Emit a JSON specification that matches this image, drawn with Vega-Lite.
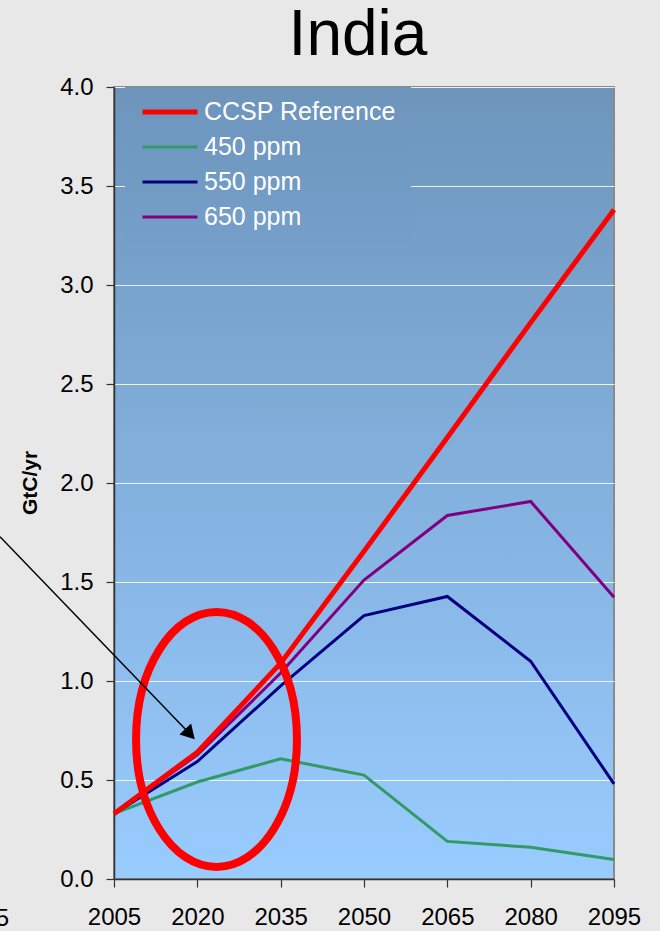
{
  "$schema": "https://vega.github.io/schema/vega-lite/v6.json",
  "width": 500,
  "height": 792,
  "autosize": "none",
  "padding": {"left": 114, "top": 87, "right": 46, "bottom": 52},
  "background": "#e8e8e8",
  "title": {"text": "India", "fontSize": 64, "font": "Liberation Sans", "fontWeight": "normal", "color": "#000000", "offset": 7, "anchor": "middle", "dx": -6},
  "config": {
    "font": "Liberation Sans",
    "view": {
      "fill": {"gradient": "linear", "x1": 0, "y1": 0, "x2": 0, "y2": 1, "stops": [{"offset": 0, "color": "#6d95bc"}, {"offset": 1, "color": "#99ccff"}]},
      "stroke": "#8a8a8a",
      "strokeWidth": 2
    },
    "axis": {"labelFont": "Liberation Sans", "labelFontSize": 24, "labelColor": "#000000", "tickSize": 8, "tickColor": "#333333", "domainColor": "#333333", "domainWidth": 1.5, "tickWidth": 1.2},
    "legend": {
      "orient": "none", "legendX": 11, "legendY": 0, "padding": 15,
      "strokeColor": null,
      "labelColor": "#ffffff", "labelFontSize": 25, "labelFont": "Liberation Sans", "labelLimit": 0,
      "symbolType": "stroke", "symbolSize": 3025, "clipHeight": 20, "rowPadding": 10, "labelOffset": 4
    }
  },
  "datasets": {
    "series": [
      {"year": 2005, "value": 0.33, "series": "450 ppm"},
      {"year": 2020, "value": 0.49, "series": "450 ppm"},
      {"year": 2035, "value": 0.607, "series": "450 ppm"},
      {"year": 2050, "value": 0.525, "series": "450 ppm"},
      {"year": 2065, "value": 0.19, "series": "450 ppm"},
      {"year": 2080, "value": 0.16, "series": "450 ppm"},
      {"year": 2095, "value": 0.098, "series": "450 ppm"},
      {"year": 2005, "value": 0.33, "series": "550 ppm"},
      {"year": 2020, "value": 0.593, "series": "550 ppm"},
      {"year": 2035, "value": 0.975, "series": "550 ppm"},
      {"year": 2050, "value": 1.33, "series": "550 ppm"},
      {"year": 2065, "value": 1.427, "series": "550 ppm"},
      {"year": 2080, "value": 1.1, "series": "550 ppm"},
      {"year": 2095, "value": 0.48, "series": "550 ppm"},
      {"year": 2005, "value": 0.33, "series": "650 ppm"},
      {"year": 2020, "value": 0.627, "series": "650 ppm"},
      {"year": 2035, "value": 1.04, "series": "650 ppm"},
      {"year": 2050, "value": 1.51, "series": "650 ppm"},
      {"year": 2065, "value": 1.836, "series": "650 ppm"},
      {"year": 2080, "value": 1.907, "series": "650 ppm"},
      {"year": 2095, "value": 1.423, "series": "650 ppm"},
      {"year": 2005, "value": 0.33, "series": "CCSP Reference"},
      {"year": 2020, "value": 0.64, "series": "CCSP Reference"},
      {"year": 2035, "value": 1.09, "series": "CCSP Reference"},
      {"year": 2050, "value": 1.655, "series": "CCSP Reference"},
      {"year": 2065, "value": 2.23, "series": "CCSP Reference"},
      {"year": 2080, "value": 2.81, "series": "CCSP Reference"},
      {"year": 2095, "value": 3.38, "series": "CCSP Reference"}
    ],
    "ellipse": [{"year": 2023.45, "value": 0.705}],
    "arrow": [{"year": 1984.48, "value": 1.729}, {"year": 2018.68, "value": 0.732}],
    "arrowhead": [{"year": 2018.68, "value": 0.732}],
    "stray": [{"year": 1986.1, "value": -0.236, "label": "2095"}],
    "ytitle": [{"year": 1990.1, "value": 2.0, "label": "GtC/yr"}]
  },
  "encoding": {
    "x": {"field": "year", "type": "quantitative", "scale": {"domain": [2005, 2095], "nice": false, "zero": false},
          "axis": {"values": [2005, 2020, 2035, 2050, 2065, 2080, 2095], "format": "d", "labelPadding": 18, "grid": false, "title": null, "labelFlush": false}},
    "y": {"field": "value", "type": "quantitative", "scale": {"domain": [0, 4], "nice": false, "zero": false},
          "axis": {"values": [0, 0.5, 1, 1.5, 2, 2.5, 3, 3.5, 4], "format": ".1f", "labelPadding": 13, "grid": true, "gridColor": "#ffffff", "gridOpacity": 0.85, "gridWidth": 1, "title": null}}
  },
  "layer": [
    {
      "data": {"name": "series"},
      "mark": {"type": "line", "strokeJoin": "miter"},
      "encoding": {
        "color": {"field": "series", "type": "nominal", "title": null,
                  "scale": {"domain": ["CCSP Reference", "450 ppm", "550 ppm", "650 ppm"], "range": ["#ff0000", "#339966", "#000080", "#800080"]},
                  "legend": {"encode": {"legend": {"update": {"fill": {"value": {"gradient": "linear", "x1": 0, "y1": 0, "x2": 0, "y2": 1, "stops": [{"offset": 0, "color": "#6d95bc"}, {"offset": 1, "color": "#759fc9"}]}}}}}}},
        "strokeWidth": {"field": "series", "type": "nominal", "title": null,
                        "scale": {"type": "ordinal", "domain": ["CCSP Reference", "450 ppm", "550 ppm", "650 ppm"], "range": [5, 3, 3, 3]}}
      }
    },
    {
      "data": {"name": "ellipse"},
      "mark": {"type": "point", "shape": "M0,-1C0.3486,-1,0.631,-0.5523,0.631,0C0.631,0.5523,0.3486,1,0,1C-0.3486,1,-0.631,0.5523,-0.631,0C-0.631,-0.5523,-0.3486,-1,0,-1Z",
               "size": 65025, "filled": false, "stroke": "#ff0000", "strokeWidth": 8, "opacity": 1},
      "encoding": {}
    },
    {
      "data": {"name": "arrow"},
      "mark": {"type": "line", "color": "#000000", "strokeWidth": 1.5},
      "encoding": {}
    },
    {
      "data": {"name": "arrowhead"},
      "mark": {"type": "point", "shape": "triangle-up", "size": 256, "angle": 137, "filled": true, "color": "#000000", "opacity": 1},
      "encoding": {}
    },
    {
      "data": {"name": "stray"},
      "mark": {"type": "text", "align": "right", "baseline": "alphabetic", "fontSize": 24, "font": "Liberation Sans", "color": "#000000"},
      "encoding": {"text": {"field": "label"}}
    },
    {
      "data": {"name": "ytitle"},
      "mark": {"type": "text", "align": "center", "baseline": "middle", "angle": 270, "fontSize": 21, "fontWeight": "bold", "font": "Liberation Sans", "color": "#000000"},
      "encoding": {"text": {"field": "label"}}
    }
  ]
}
